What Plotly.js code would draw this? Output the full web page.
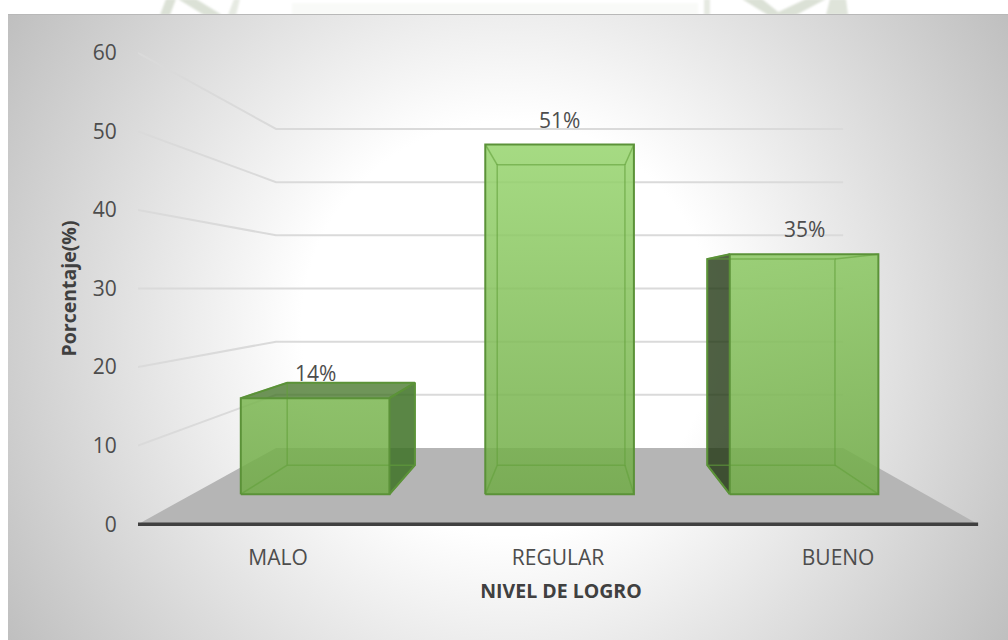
<!DOCTYPE html>
<html>
<head>
<meta charset="utf-8">
<script src="https://cdn.plot.ly/plotly-3.0.1.min.js"></script>
<style>
html,body{margin:0;padding:0;background:#fff;overflow:hidden}
#mark{position:absolute;left:0;top:0;width:1008px;height:14px}
#frame{position:absolute;left:8px;top:14px;width:1000px;height:626px;box-sizing:border-box;border-top:1.5px solid #b8b8b8;
background:radial-gradient(circle 590px at 500px 313px,#fff 35%,#bfbfbf 100%)}
#chart{position:absolute;left:0;top:0;width:1008px;height:640px}
</style>
</head>
<body>
<svg id="mark" viewBox="0 0 1008 14">
<defs><filter id="b"><feGaussianBlur stdDeviation="0.8"/></filter></defs>
<g filter="url(#b)">
<rect x="292" y="3" width="406" height="12" fill="#f9faf8"/>
<polygon points="160,15 166,-1 176,-1 170,15" fill="#dbe1d6"/>
<polygon points="178,-1 196,-1 222,15 204,15" fill="#dbe1d6"/>
<polygon points="228,15 234,-1 240,-1 236,15" fill="#e6eae2"/>
<rect x="704" y="-1" width="6" height="16" fill="#e6eae2"/>
<polygon points="742,-1 762,-1 782,15 768,15" fill="#dbe1d6"/>
<polygon points="772,15 806,-1 826,-1 796,15" fill="#dbe1d6"/>
<polygon points="826,15 830,-1 846,-1 848,15" fill="#dfe4da"/>
</g>
</svg>
<div id="frame"></div>
<div id="chart"></div>
<script>
// ---- data ----
var categories = ['MALO', 'REGULAR', 'BUENO'];
var percentages = [14, 51, 35];
var yTicks = [0, 10, 20, 30, 40, 50, 60];
var xAxisTitle = 'NIVEL DE LOGRO';
var yAxisTitle = 'Porcentaje(%)';

// ---- pseudo-3D view settings ----
var VX = 1.043, VY = 30;             // vanishing point in axis units
var FLOOR_L = -0.5, FLOOR_R = 2.5;   // front edge of the floor
var BACK_L = -0.508, BACK_R = 2.483; // back edge, before projection
var S_WALL = 0.677, S_FRONT = 0.873, S_BACK = 0.75;
var HALF = 0.304;
var FONT = '"Open Sans", sans-serif';
var TXT = '#4d4d4d';

function pt(x, y, s) { return [VX + (x - VX) * s, VY + (y - VY) * s]; }
function poly(points, opt) {
  var t = {
    x: points.map(function (p) { return p ? p[0] : null; }),
    y: points.map(function (p) { return p ? p[1] : null; }),
    mode: 'lines', hoverinfo: 'skip', showlegend: false,
    line: opt.line || { width: 0 }
  };
  if (opt.fill) { t.fill = 'toself'; t.fillcolor = opt.fill; }
  if (opt.grad) { t.fill = 'toself'; t.fillgradient = opt.grad; }
  return t;
}

var traces = [];

// floor
traces.push(poly([pt(FLOOR_L, 0, 1), pt(FLOOR_R, 0, 1), pt(BACK_R, 0, S_WALL), pt(BACK_L, 0, S_WALL), pt(FLOOR_L, 0, 1)], { fill: '#b5b5b5' }));

// gridlines: left wall, then back wall
yTicks.slice(1).forEach(function (v) {
  traces.push(poly([pt(FLOOR_L, v, 1), pt(BACK_L, v, S_WALL), pt(BACK_R, v, S_WALL)],
    { line: { color: '#dadada', width: 2 } }));
});

// baseline
traces.push(poly([pt(FLOOR_L, 0, 1), pt(FLOOR_R, 0, 1)], { line: { color: '#404040', width: 3.5 } }));

var FRONT_GRAD = {
  type: 'vertical', start: 60, stop: 0,
  colorscale: [[0, 'rgba(162,224,122,0.85)'], [1, 'rgba(110,168,68,0.85)']]
};
var INNER = 'rgba(112,173,71,0.08)';
var EDGE = 'rgba(98,160,58,0.6)';
var FRAME = { color: '#5b9238', width: 2 };

percentages.forEach(function (v, i) {
  var l = i - HALF, r = i + HALF;
  var fbl = pt(l, 0, S_FRONT), fbr = pt(r, 0, S_FRONT), ftl = pt(l, v, S_FRONT), ftr = pt(r, v, S_FRONT);
  var bbl = pt(l, 0, S_BACK), bbr = pt(r, 0, S_BACK), btl = pt(l, v, S_BACK), btr = pt(r, v, S_BACK);
  var leftOuter = l > VX, rightOuter = r < VX, topOuter = v < VY;
  // back & bottom
  traces.push(poly([bbl, bbr, btr, btl, bbl], { fill: INNER }));
  traces.push(poly([fbl, fbr, bbr, bbl, fbl], { fill: 'rgba(90,150,50,0.08)' }));
  // sides
  traces.push(poly([fbl, bbl, btl, ftl, fbl], { fill: leftOuter ? 'rgba(28,50,14,0.77)' : INNER }));
  traces.push(poly([fbr, bbr, btr, ftr, fbr], { fill: rightOuter ? 'rgba(62,114,39,0.85)' : INNER }));
  traces.push(poly([ftl, ftr, btr, btl, ftl], { fill: topOuter ? 'rgba(60,110,30,0.72)' : INNER }));
  // front
  traces.push(poly([fbl, fbr, ftr, ftl, fbl], { grad: FRONT_GRAD }));
  // inner edges
  traces.push(poly([bbl, bbr, btr, btl, bbl, null, fbl, bbl, null, fbr, bbr, null, ftl, btl, null, ftr, btr],
    { line: { color: EDGE, width: 1.5 } }));
  // outer silhouette on visible outer faces
  if (leftOuter) traces.push(poly([fbl, bbl, btl, ftl], { line: FRAME }));
  if (rightOuter) traces.push(poly([fbr, bbr, btr, ftr], { line: FRAME }));
  if (topOuter) traces.push(poly([ftl, btl, btr, ftr], { line: FRAME }));
  traces.push(poly([fbl, fbr, ftr, ftl, fbl], { line: FRAME }));
});

var annotations = percentages.map(function (v, i) {
  var p = pt(i, v, S_FRONT);
  return {
    x: p[0], y: p[1], xref: 'x', yref: 'y', text: v + '%', showarrow: false,
    yshift: 25, font: { family: FONT, size: 21, color: TXT }
  };
});

// plot area runs a little past the floor so the x title sits where the original has it
var RANGE_R = 2.521;

var layout = {
  width: 1008, height: 640,
  margin: { l: 138, r: 24, t: 45.15, b: 108.15, pad: 0 },
  paper_bgcolor: 'rgba(0,0,0,0)', plot_bgcolor: 'rgba(0,0,0,0)',
  showlegend: false,
  xaxis: {
    range: [FLOOR_L, RANGE_R], tickmode: 'array', tickvals: categories.map(function (c, i) { return i; }),
    ticktext: categories, showgrid: false, zeroline: false, showline: false,
    ticks: 'outside', ticklen: 7, tickcolor: 'rgba(0,0,0,0)',
    tickfont: { family: FONT, size: 21, color: TXT },
    title: { text: xAxisTitle, standoff: 14, font: { family: FONT, size: 19.5, color: '#404040', weight: 'bold' } }
  },
  yaxis: {
    range: [-1, 61], tickmode: 'array', tickvals: yTicks, ticktext: yTicks.map(String),
    showgrid: false, zeroline: false, showline: false,
    ticks: 'outside', ticklen: 16, tickcolor: 'rgba(0,0,0,0)',
    tickfont: { family: FONT, size: 21, color: TXT },
    title: { text: yAxisTitle, standoff: 10, font: { family: FONT, size: 19.5, color: '#404040', weight: 'bold' } }
  },
  annotations: annotations
};

Plotly.newPlot('chart', traces, layout, { displayModeBar: false, staticPlot: true });
</script>
</body>
</html>
